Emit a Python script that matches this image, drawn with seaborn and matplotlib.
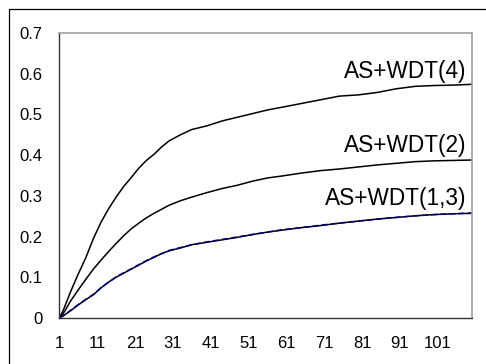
import matplotlib
matplotlib.use("Agg")
import matplotlib.pyplot as plt
from matplotlib.lines import Line2D
import seaborn as sns
import pandas as pd

# ---- data ----
x_pts = [1, 2, 4, 6, 8, 10, 12, 14, 16, 18, 20, 22, 24, 26, 28, 30, 33, 36, 40,
         44, 48, 52, 56, 60, 65, 70, 75, 80, 85, 90, 95, 100, 105, 110]
wdt4 = [0, 0.018, 0.065, 0.108, 0.148, 0.195, 0.235, 0.268, 0.297, 0.323, 0.345, 0.368,
        0.387, 0.402, 0.42, 0.435, 0.45, 0.463, 0.472, 0.484, 0.493, 0.502, 0.511,
        0.518, 0.527, 0.536, 0.545, 0.548, 0.554, 0.563, 0.569, 0.571, 0.572, 0.574]
wdt2 = [0, 0.01, 0.042, 0.069, 0.095, 0.12, 0.142, 0.163, 0.183, 0.202, 0.219, 0.233,
        0.246, 0.257, 0.267, 0.277, 0.288, 0.297, 0.308, 0.318, 0.326, 0.336, 0.344,
        0.349, 0.356, 0.362, 0.366, 0.371, 0.376, 0.38, 0.384, 0.386, 0.387, 0.388]
wdt1 = [0, 0.005, 0.018, 0.032, 0.045, 0.057, 0.074, 0.088, 0.1, 0.11, 0.12, 0.13,
        0.14, 0.149, 0.158, 0.165, 0.172, 0.18, 0.186, 0.192, 0.198, 0.205, 0.211,
        0.216, 0.222, 0.227, 0.233, 0.238, 0.243, 0.247, 0.251, 0.254, 0.256, 0.257]
wdt3 = [0, 0.005, 0.019, 0.033, 0.046, 0.058, 0.074, 0.088, 0.101, 0.111, 0.121, 0.131,
        0.141, 0.15, 0.158, 0.166, 0.173, 0.18, 0.187, 0.193, 0.199, 0.205, 0.211,
        0.217, 0.222, 0.228, 0.233, 0.238, 0.243, 0.247, 0.251, 0.254, 0.256, 0.258]

series_names = ["AS+WDT(4)", "AS+WDT(2)", "AS+WDT(1)", "AS+WDT(3)"]
series_vals = [wdt4, wdt2, wdt1, wdt3]
series_colors = ["#000000", "#000000", "#000000", "#000080"]

labels = ["AS+WDT(4)", "AS+WDT(2)", "AS+WDT(1,3)"]
label_y = [0.5895, 0.4087, 0.2768]

x_ticks = [1, 11, 21, 31, 41, 51, 61, 71, 81, 91, 101]
y_ticks = [0, 0.1, 0.2, 0.3, 0.4, 0.5, 0.6, 0.7]

# ---- style ----
sns.set_style("white")
plt.rcParams["font.family"] = ["Liberation Sans", "DejaVu Sans"]

fig = plt.figure(figsize=(4.86, 3.64), dpi=100)
ax = fig.add_axes([59.3 / 486, (364 - 318) / 364, (472 - 59.3) / 486, (318 - 33) / 364])

rows = []
for name, vals in zip(series_names, series_vals):
    for xv, yv in zip(x_pts, vals):
        rows.append({"x": xv, "v": yv, "series": name})
df = pd.DataFrame(rows)

for name, col in zip(series_names, series_colors):
    sub = df[df["series"] == name]
    ls = (0, (4, 2)) if name == "AS+WDT(3)" else "-"
    sns.lineplot(data=sub, x="x", y="v", ax=ax, color=col, linewidth=1.1,
                 linestyle=ls, legend=False)

for txt, yv in zip(labels, label_y):
    ax.text(108.5, yv, txt, ha="right", va="baseline", fontsize=16.3, color="black")

ax.set_xlim(1, 110)
ax.set_ylim(0, 0.7)
ax.set_xticks(x_ticks)
ax.set_xticklabels([str(t) for t in x_ticks])
ax.set_yticks(y_ticks)
ax.set_yticklabels(["0" if t == 0 else f"{t:.1f}" for t in y_ticks])
ax.set_xlabel("")
ax.set_ylabel("")

for s in ["left", "bottom"]:
    ax.spines[s].set_color("#333333")
    ax.spines[s].set_linewidth(1.0)
for s in ["top", "right"]:
    ax.spines[s].set_visible(True)
    ax.spines[s].set_color("#a0a0a0")
    ax.spines[s].set_linewidth(1.2)

ax.tick_params(axis="both", direction="inout", length=6.5, width=1.0,
               color="#333333", labelsize=12, labelcolor="black")
ax.tick_params(axis="x", pad=10)
ax.tick_params(axis="y", pad=9)
ax.grid(False)

# outer chart frame (left and top edges visible)
fig.add_artist(Line2D([8.5 / 486, 8.5 / 486], [0, 1 - 8.5 / 364],
                      transform=fig.transFigure, color="black", linewidth=0.9))
fig.add_artist(Line2D([8.5 / 486, 1], [1 - 8.5 / 364, 1 - 8.5 / 364],
                      transform=fig.transFigure, color="black", linewidth=0.9))

fig.savefig("out.png", dpi=100)
